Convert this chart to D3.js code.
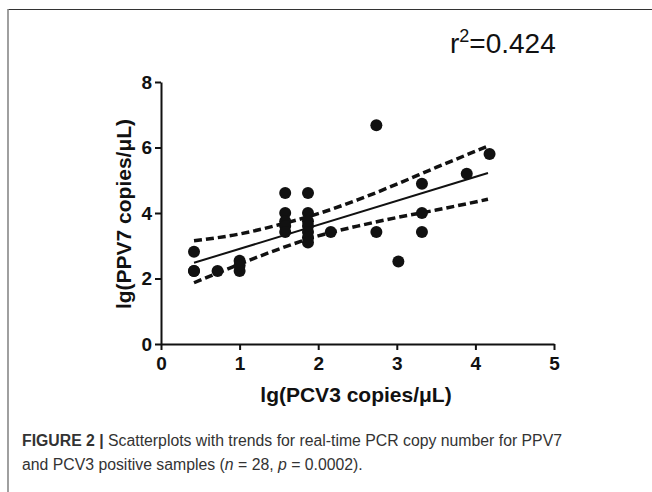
<!DOCTYPE html>
<html>
<head>
<meta charset="utf-8">
<script src="https://cdn.jsdelivr.net/npm/d3@7"></script>
<style>
  body { margin: 0; background: #fff; }
  svg { display: block; }
</style>
</head>
<body>
<script>
// points (log10 copies/uL)
const pcv3 = [0.42, 0.42, 0.42, 0.72, 1.0, 1.0, 1.0,
  1.58, 1.58, 1.58, 1.58, 1.58,
  1.87, 1.87, 1.87, 1.87, 1.87, 1.87, 1.87,
  2.16, 2.74, 2.74, 3.02, 3.32, 3.32, 3.32, 3.89, 4.18];
const ppv7 = [2.82, 2.23, 2.23, 2.23, 2.54, 2.23, 2.40,
  4.61, 4.00, 3.75, 3.60, 3.42,
  4.61, 4.00, 3.75, 3.60, 3.42, 3.25, 3.10,
  3.42, 6.68, 3.42, 2.52, 4.89, 4.00, 3.42, 5.20, 5.80];

// regression line and 95% band, read at a few x positions
const fitX = [0.42, 4.16];
const fitY = [2.48, 5.22];
const bandX = [0.42, 1.0, 1.5, 2.0, 2.5, 3.0, 3.5, 4.16];
const bandUpper = [3.15, 3.36, 3.64, 3.98, 4.40, 4.88, 5.39, 6.04];
const bandLower = [1.87, 2.44, 2.90, 3.30, 3.60, 3.86, 4.09, 4.42];

const xTicks = [0, 1, 2, 3, 4, 5];
const yTicks = [0, 2, 4, 6, 8];

const svg = d3.select("body").append("svg").attr("width", 652).attr("height", 492);

// figure frame
svg.append("line").attr("x1", 8).attr("x2", 652).attr("y1", 9.5).attr("y2", 9.5)
  .attr("stroke", "#333").attr("stroke-width", 1.2);
svg.append("line").attr("x1", 8).attr("x2", 8).attr("y1", 9).attr("y2", 492)
  .attr("stroke", "#888").attr("stroke-width", 1.6);

const x = d3.scaleLinear().domain([0, 5]).range([161, 554]);
const y = d3.scaleLinear().domain([0, 8]).range([344, 82]);

const xAx = svg.append("g").attr("transform", "translate(0,344)")
  .call(d3.axisBottom(x).tickValues(xTicks).tickFormat(d3.format("d"))
    .tickSize(6).tickSizeOuter(0).tickPadding(7));
const yAx = svg.append("g").attr("transform", "translate(161,0)")
  .call(d3.axisLeft(y).tickValues(yTicks).tickFormat(d3.format("d"))
    .tickSize(6).tickSizeOuter(0).tickPadding(3));

[xAx, yAx].forEach(g => {
  g.selectAll("path, line").attr("stroke", "#111").attr("stroke-width", 2);
  g.selectAll("text").attr("fill", "#111")
    .style("font-family", "Liberation Sans, Arial, sans-serif")
    .style("font-weight", "bold").style("font-size", "19px");
});

// band + fit
const ln = d3.line().x(d => x(d[0])).y(d => y(d[1])).curve(d3.curveMonotoneX);
svg.append("path").datum(d3.zip(bandX, bandUpper)).attr("d", ln)
  .attr("fill", "none").attr("stroke", "#111").attr("stroke-width", 3.5).attr("stroke-dasharray", "8,4");
svg.append("path").datum(d3.zip(bandX, bandLower)).attr("d", ln)
  .attr("fill", "none").attr("stroke", "#111").attr("stroke-width", 3.5).attr("stroke-dasharray", "8,4");
svg.append("path").datum(d3.zip(fitX, fitY)).attr("d", d3.line().x(d => x(d[0])).y(d => y(d[1])))
  .attr("fill", "none").attr("stroke", "#111").attr("stroke-width", 2);

svg.selectAll("circle.pt").data(d3.zip(pcv3, ppv7)).enter().append("circle")
  .attr("class", "pt")
  .attr("cx", d => x(d[0])).attr("cy", d => y(d[1])).attr("r", 6)
  .attr("fill", "#111");

// axis titles
svg.append("text").attr("x", 356).attr("y", 402).attr("text-anchor", "middle")
  .style("font-family", "Liberation Sans, Arial, sans-serif").style("font-weight", "bold")
  .style("font-size", "21px").attr("fill", "#111").text("lg(PCV3 copies/μL)");
svg.append("text").attr("transform", "translate(131,214) rotate(-90)").attr("text-anchor", "middle")
  .style("font-family", "Liberation Sans, Arial, sans-serif").style("font-weight", "bold")
  .style("font-size", "21px").attr("fill", "#111").text("lg(PPV7 copies/μL)");

// r squared
const r2 = svg.append("text").attr("x", 450).attr("y", 53)
  .style("font-family", "Liberation Sans, Arial, sans-serif").style("font-size", "28px").attr("fill", "#111");
r2.append("tspan").text("r");
r2.append("tspan").attr("dy", -11).style("font-size", "18px").text("2");
r2.append("tspan").attr("dy", 11).text("=0.424");

// caption
const cap = svg.append("g").style("font-family", "Liberation Sans, Arial, sans-serif")
  .style("font-size", "15.8px").attr("fill", "#333");
const l1 = cap.append("text").attr("x", 22).attr("y", 446);
l1.append("tspan").style("font-weight", "bold").text("FIGURE 2 | ");
l1.append("tspan").text("Scatterplots with trends for real-time PCR copy number for PPV7");
const l2 = cap.append("text").attr("x", 22).attr("y", 470);
l2.append("tspan").text("and PCV3 positive samples (");
l2.append("tspan").style("font-style", "italic").text("n");
l2.append("tspan").text(" = 28, ");
l2.append("tspan").style("font-style", "italic").text("p");
l2.append("tspan").text(" = 0.0002).");
</script>
</body>
</html>
